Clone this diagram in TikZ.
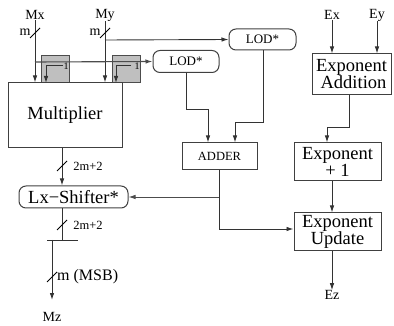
\documentclass[tikz,border=0pt]{standalone}
\usepackage{fontspec}
\setmainfont{Liberation Serif}
\usetikzlibrary{arrows.meta,calc}
\begin{document}
\begin{tikzpicture}[x=1pt,y=-1pt,
  ln/.style={line width=0.9pt,draw=black!80},
  ar/.style={ln,-{Latex[length=7pt,width=4.5pt]}},
  blk/.style={draw=black!75,line width=1pt,inner sep=0pt,align=center},
  rblk/.style={blk,rounded corners=7pt},
  grey/.style={draw=black!70,fill=black!25,line width=1pt,minimum width=28pt,minimum height=27pt,inner sep=0pt},
  lbl/.style={inner sep=0pt,font=\fontsize{14}{14}\selectfont},
  sml/.style={inner sep=0pt,font=\fontsize{12.5}{12.5}\selectfont},
  slash/.style={line width=0.8pt,draw=black}]
\useasboundingbox (0,0) rectangle (394,326);
% grey boxes
\node[grey] (g1) at (55,69.5) {};
\node[grey] (g2) at (126,69.5) {};
% main blocks
\node[blk,minimum width=114pt,minimum height=65pt,font=\fontsize{18.5}{18.5}\selectfont] (mult) at (65,115.5) {Multiplier};
\node[rblk,minimum width=66pt,minimum height=22pt,font=\fontsize{13}{13}\selectfont] (lod1) at (186,61.5) {LOD*};
\node[rblk,minimum width=67pt,minimum height=21pt,font=\fontsize{13}{13}\selectfont] (lod2) at (262.5,39.5) {LOD*};
\node[blk,minimum width=75pt,minimum height=27pt,font=\fontsize{12.5}{12.5}\selectfont] (adder) at (219.5,156.5) {ADDER};
\node[blk,minimum width=79pt,minimum height=41pt,font=\fontsize{18.5}{17}\selectfont] (expadd) at (351.5,74.5) {Exponent\\ \hspace*{4pt}Addition};
\node[blk,minimum width=87pt,minimum height=38pt,font=\fontsize{18.5}{17}\selectfont] (expone) at (337.5,162) {Exponent\\ + 1};
\node[blk,minimum width=87pt,minimum height=38pt,font=\fontsize{18.5}{17}\selectfont] (expupd) at (337.5,232) {Exponent\\ Update};
\node[rblk,minimum width=109pt,minimum height=22pt,font=\fontsize{18.5}{18.5}\selectfont] (lx) at (73.5,197) {Lx−Shifter*};
% labels
\node[lbl] (mx) at (35,15) {Mx};
\node[lbl] (my) at (105,15) {My};
\node[lbl] (ex) at (332,15) {Ex};
\node[lbl] (ey) at (377,15) {Ey};
\node[lbl] (ez) at (332,295) {Ez};
\node[lbl] (mz) at (52,317) {Mz};
\node[lbl] (mlx) at (25,32) {m};
\node[lbl] (mly) at (95,32) {m};
\node[sml] (w1) at (88,166) {2m+2};
\node[sml] (w2) at (88,225) {2m+2};
\node[inner sep=0pt,anchor=west,font=\fontsize{16}{16}\selectfont] (w3) at (57,277) {m (MSB)};
\node[inner sep=0pt,font=\fontsize{10}{10}\selectfont] (one1) at (66,66) {1};
\node[inner sep=0pt,font=\fontsize{10}{10}\selectfont] (one2) at (137,66) {1};
% coordinates
\coordinate (mybr) at (105,40);
\coordinate (mxbr) at (35,62);
\coordinate (bar) at (62,240);
\coordinate (barL) at (47,240);
\coordinate (barR) at (78,240);
\coordinate (mzs) at (52,240);
\coordinate (adbr) at (219,197);
% inputs
\draw[ar] (mx.south) -- (mx.south |- mult.north);
\draw[ar] (my.south) -- (my.south |- mult.north);
\draw[ar] (mybr) -- (lod2.west);
\draw[ar,line width=1.1pt,draw=black!70] (mxbr) -- (lod1.west);
% inner small arrows
\draw[ar] (63,65) -- (46,65) -- (46,83);
\draw[ar] (131,65) -- (116,65) -- (116,83);
% multiplier to shifter
\draw[ar] (mult.south -| 62,0) -- (lx.north -| 62,0);
\draw[ln] (lx.south -| 62,0) -- (bar);
\draw[ln] (barL) -- (barR);
\draw[ar] (mzs) -- (52,300);
% LODs to adder
\draw[ar] (lod1.south) -- (186,109) -- (208,109) -- (adder.north -| 208,0);
\draw[ar] (lod2.south -| 263,0) -- (263,122) -- (235,122) -- (adder.north -| 235,0);
% adder outputs
\draw[ar] (adder.south -| 219,0) -- (219,229) -- (expupd.west |- 0,229);
\draw[ar,draw=black!70] (adbr) -- (lx.east);
% exponent path
\draw[ar] (ex.south) -- (ex.south |- expadd.north);
\draw[ar] (ey.south) -- (ey.south |- expadd.north);
\draw[ar] (expadd.south -| 349,0) -- (349,127) -- (327,127) -- (expone.north -| 327,0);
\draw[ar] (expone.south -| 332,0) -- (expupd.north -| 332,0);
\draw[ar] (expupd.south -| 332,0) -- (ez.north);
% slashes
\draw[slash] (30,38) -- (40,28);
\draw[slash] (100,38) -- (110,28);
\draw[slash] (57,171) -- (67,161);
\draw[slash] (57,230) -- (67,220);
\draw[slash] (47,282) -- (57,272);
\end{tikzpicture}
\end{document}
